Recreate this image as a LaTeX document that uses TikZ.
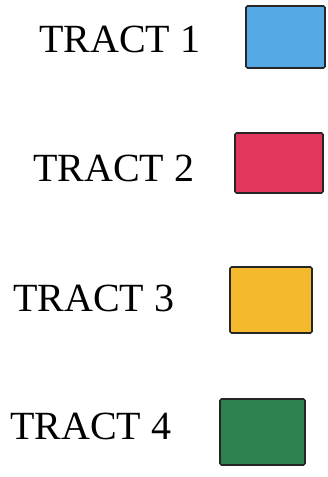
\documentclass[tikz,border=0pt]{standalone}
\usepackage{fontspec}
\setmainfont{Liberation Serif}
\usepackage{xcolor}
\usepackage{tikz}
\usetikzlibrary{
    positioning,
    calc,
}
\definecolor{tractblue}{RGB}{85,170,230}
\definecolor{tractred}{RGB}{225,55,95}
\definecolor{tractyellow}{RGB}{245,185,45}
\definecolor{tractgreen}{RGB}{45,130,80}
\tikzset{
    % Label styles
    tract label/.style={anchor=base west, inner sep=0pt, font=\fontsize{40}{40}\selectfont},
    % Swatch styles
    swatch/.style={rectangle, draw=black!85, line width=1.6pt, rounded corners=1.5pt,
                   inner sep=0pt},
}

\begin{document}
\begin{tikzpicture}[x=1pt, y=1pt]
    \useasboundingbox (0,0) rectangle (327,477);

    % Tract 1
    \node[tract label] (t1) at (39, 424) {TRACT 1};
    \node[swatch, fill=tractblue, minimum width=79pt, minimum height=62pt] (s1) at (285.5, 440) {};

    % Tract 2
    \node[tract label] (t2) at (33, 295) {TRACT 2};
    \node[swatch, fill=tractred, minimum width=88pt, minimum height=60pt] (s2) at (279, 314) {};

    % Tract 3
    \node[tract label] (t3) at (13, 165) {TRACT 3};
    \node[swatch, fill=tractyellow, minimum width=82pt, minimum height=66pt] (s3) at (271, 177) {};

    % Tract 4
    \node[tract label] (t4) at (10, 37) {TRACT 4};
    \node[swatch, fill=tractgreen, minimum width=85pt, minimum height=66pt] (s4) at (262.5, 45) {};
\end{tikzpicture}
\end{document}
